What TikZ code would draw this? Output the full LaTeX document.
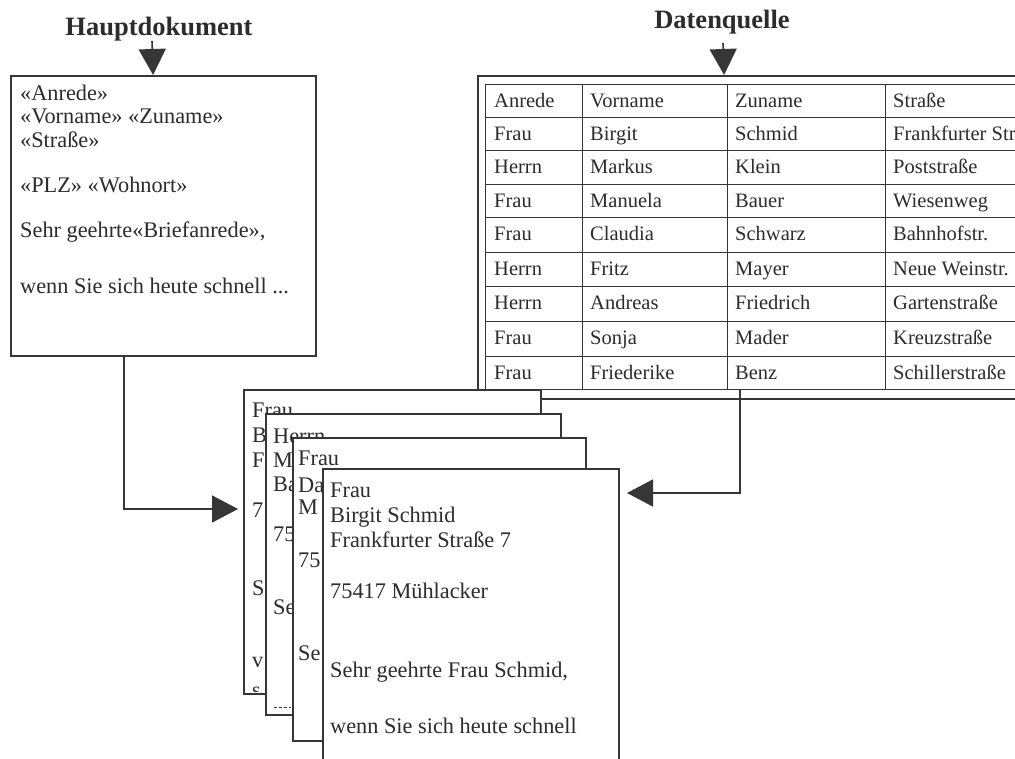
\documentclass[tikz,border=0pt]{standalone}
\usepackage{fontspec}
\setmainfont{Liberation Serif}
\usetikzlibrary{arrows.meta}
\definecolor{ink}{HTML}{363636}
\definecolor{inktext}{HTML}{2C2C2C}
\begin{document}
\begin{tikzpicture}[x=1pt,y=-1pt,
  frame/.style={draw=ink, line width=2.2pt, fill=white, inner sep=0pt},
  gridbox/.style={draw=ink, line width=1.1pt, inner sep=0pt},
  rule/.style={draw=ink, line width=1pt},
  page/.style={draw=ink, line width=1.5pt, fill=white, inner sep=0pt},
  title/.style={font=\fontsize{26.5}{30}\selectfont\bfseries, text=inktext, inner sep=0pt, anchor=base},
  txt/.style={font=\fontsize{22.3}{26}\selectfont, text=inktext, anchor=base west, inner sep=0pt},
  cell/.style={font=\fontsize{20.5}{24}\selectfont, text=inktext, anchor=base west, inner sep=0pt},
  conn/.style={draw=ink, line width=1.6pt},
  arr/.style={conn, -{Triangle[length=26pt,width=27pt]}},
]
\path[use as bounding box] (0,0) rectangle (1015,758);
\clip (0,0) rectangle (1015,758);

% titles
\node[title] (hd) at (159,35) {Hauptdokument};
\node[title] (dq) at (722,28) {Datenquelle};

% main document
\node[frame, anchor=north west, minimum width=305pt, minimum height=280pt] (main) at (10,75) {};
\node[txt] (m1) at (20,100) {«Anrede»};
\node[txt] (m2) at (20,123) {«Vorname» «Zuname»};
\node[txt] (m3) at (20,147) {«Straße»};
\node[txt] (m4) at (20,192) {«PLZ» «Wohnort»};
\node[txt] (m5) at (20,237) {Sehr geehrte«Briefanrede»,};
\node[txt] (m6) at (20,293) {wenn Sie sich heute schnell ...};

% data source table
\node[frame, anchor=north west, minimum width=570pt, minimum height=323pt] (tab) at (477,75) {};
\node[gridbox, anchor=north west, minimum width=560pt, minimum height=305pt] (grid) at (485,84) {};
\foreach \yy in {117,150,184,217,252,286,321,356} \draw[rule] (485,\yy) -- (1045,\yy);
\foreach \xx in {582,727,885} \draw[rule] (\xx,84) -- (\xx,389);
\foreach [count=\i] \t/\a/\b/\c/\d in {
  84/Anrede/Vorname/Zuname/Straße,
  117/Frau/Birgit/Schmid/Frankfurter Str,
  150/Herrn/Markus/Klein/Poststraße,
  184/Frau/Manuela/Bauer/Wiesenweg,
  217/Frau/Claudia/Schwarz/Bahnhofstr.,
  252/Herrn/Fritz/Mayer/Neue Weinstr.,
  286/Herrn/Andreas/Friedrich/Gartenstraße,
  321/Frau/Sonja/Mader/Kreuzstraße,
  356/Frau/Friederike/Benz/Schillerstraße}{
  \node[cell] (ca\i) at (494,\t+23) {\a};
  \node[cell] (cb\i) at (590,\t+23) {\b};
  \node[cell] (cc\i) at (735,\t+23) {\c};
  \node[cell] (cd\i) at (893,\t+23) {\d};
}

% arrows from titles
\draw[arr] ([xshift=-7pt]hd.south) -- ([xshift=-10.5pt]main.north);
\draw[arr] ([xshift=1pt,yshift=-9pt]dq.south) -- ([xshift=-39pt]tab.north);

% letters (stack)
\node[page, anchor=north west, minimum width=297pt, minimum height=304pt] (p1) at (243,389) {};
\begin{scope}
  \clip (243,389) rectangle (540,691);
  \node[txt] (p1a) at (252,417) {Frau};
  \node[txt] (p1b) at (252,442) {B};
  \node[txt] (p1c) at (252,467) {F};
  \node[txt] (p1d) at (252,517) {7};
  \node[txt] (p1e) at (252,595) {S};
  \node[txt] (p1f) at (252,667) {v};
  \node[txt] (p1g) at (252,697) {s};
\end{scope}

\node[page, anchor=north west, minimum width=295pt, minimum height=301pt] (p2) at (265,413) {};
\node[txt] (p2a) at (273,443) {Herrn};
\node[txt] (p2b) at (273,467) {M};
\node[txt] (p2c) at (273,491) {Ba};
\node[txt] (p2d) at (273,541) {75};
\node[txt] (p2e) at (273,614) {Se};
\draw[ink, line width=1pt, dash pattern=on 3pt off 2pt] (274,707) -- (291,707);

\node[page, anchor=north west, minimum width=293pt, minimum height=303pt] (p3) at (292,437) {};
\node[txt] (p3a) at (298,465) {Frau};
\node[txt] (p3b) at (298,492) {Da};
\node[txt] (p3c) at (298,514) {M};
\node[txt] (p3d) at (298,567) {75};
\node[txt] (p3e) at (298,660) {Se};

\node[page, anchor=north west, minimum width=296pt, minimum height=320pt] (p4) at (322,468) {};
\node[txt] (p4a) at (330,497) {Frau};
\node[txt] (p4b) at (330,522) {Birgit Schmid};
\node[txt] (p4c) at (330,547) {Frankfurter Straße 7};
\node[txt] (p4d) at (330,598) {75417 Mühlacker};
\node[txt] (p4e) at (330,677) {Sehr geehrte Frau Schmid,};
\node[txt] (p4f) at (330,733) {wenn Sie sich heute schnell};

% connectors into the letters
\coordinate (hdout) at ([xshift=-39.5pt]main.south);
\coordinate (p1in) at (238,509);
\draw[arr] (hdout) |- (p1in);
\coordinate (dqout) at (740,389);
\coordinate (p4in) at (627,493);
\draw[arr] (dqout) |- (p4in);
\end{tikzpicture}
\end{document}
